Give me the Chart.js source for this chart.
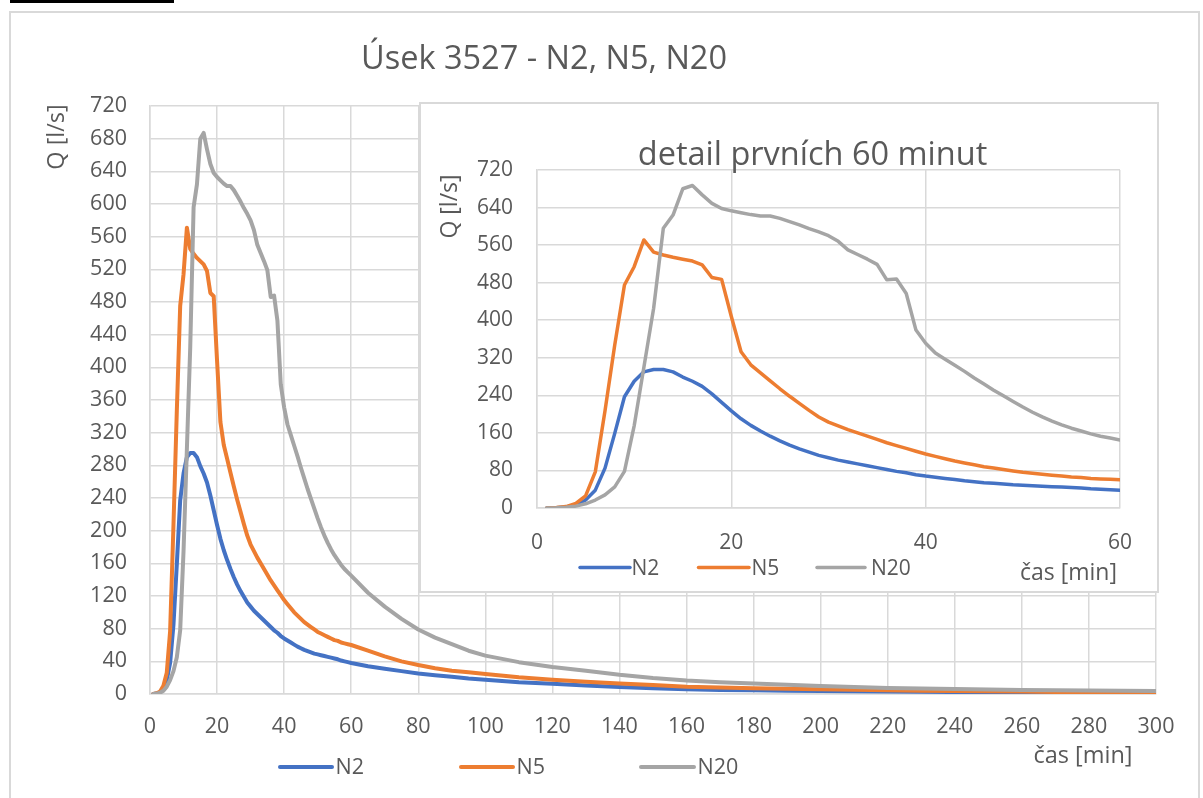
<!DOCTYPE html>
<html><head><meta charset="utf-8">
<script src="https://cdn.jsdelivr.net/npm/chart.js@4.4.0/dist/chart.umd.min.js"></script>
<style>
html,body{margin:0;padding:0;background:#fff;}
#wrap{position:relative;width:1203px;height:798px;overflow:hidden;background:#fff;}
#frame{position:absolute;left:9px;top:11px;width:1191px;height:800px;border:2px solid #d9d9d9;box-sizing:border-box;}
#topline{position:absolute;left:10px;top:0;width:164px;height:3px;background:#000;}
#main{position:absolute;left:0;top:0;}
#insetBox{position:absolute;left:419px;top:102px;width:740px;height:491px;background:#fff;border:2px solid #d9d9d9;box-sizing:border-box;}
#inset{position:absolute;left:419px;top:102px;}
</style></head>
<body>
<div id="wrap">
  <div id="topline"></div>
  <div id="frame"></div>
  <canvas id="main" width="1203" height="798"></canvas>
  <div id="insetBox"></div>
  <canvas id="inset" width="740" height="491"></canvas>
</div>
<script>
// ---- data (time in minutes, Q in l/s) ----
const times = [1,2,3,4,5,6,7,8,9,10,11,12,13,14,15,16,17,18,19,20,
  21,22,23,24,25,26,27,28,29,30,31,32,33,34,35,36,37,38,39,40,
  41,42,43,44,45,46,47,48,49,50,51,52,53,54,55,56,57,58,59,60,
  65,70,75,80,85,90,95,100,110,120,130,140,150,160,170,180,190,200,
  210,220,230,240,250,260,270,280,290,300];
const N2 = [0,0.5,2,6,17,38,85,159,237,270,290,295,295,290,279,270,259,243,225,207,
  190,176,164,153,143,134,126,119,112,107,102,98,94,90,86,82,78,75,71,68,
  65.5,63,60.5,58,56,54,52.5,51,49.5,48.5,47.5,46.5,45.5,44.5,43.5,42.5,41,40,39,38,
  34,31,28,25,23,21,19,17.5,14.5,12.5,10.5,8.5,7,5.8,5,4.5,4,3.6,
  3.3,3,2.7,2.4,2.2,2,1.8,1.6,1.4,1.2];
const N5 = [0,1,3,10,26,77,207,347,475,514,571,545,539,534,530,526,518,491,487,408,
  333,305,288,271,254,238,223,208,194,183,175,167,160,153,146,139,133,127,121,115,
  110,105,100,96,92,88,85,82,79,76,74,72,70,68,66,65,63,62,61,60,
  53,46,40,35.5,31.5,28.5,26.5,24.5,20.5,17.5,15,13,11,9,8,7,6.3,5.7,
  5.2,4.6,4.1,3.7,3.3,3,2.6,2.2,1.9,1.6];
const N20 = [0,0.5,1.5,4,9,17,28,45,78,175,300,425,596,624,680,687,667,649,638,633,
  629,625,622,622,617,610,603,595,588,580,568,550,540,530,519,486,488,457,379,351,
  330,317,304,291,277,264,251,239,227,215,204,194,185,177,170,164,158,153,149,145,
  124,107,92,79,69,61,53,47,39,33,28.5,23.5,19.5,16.5,14.5,13,11.3,9.8,
  8.5,7.4,6.6,6,5.5,5,4.6,4.3,4,3.7];
const seriesNames = ['N2','N5','N20'];
const seriesColors = ['#4472C4','#ED7D31','#A5A5A5'];
const mainTitle = 'Úsek 3527 - N2, N5, N20';
const insetTitle = 'detail prvních 60 minut';
const yTitle = 'Q [l/s]';
const xTitle = 'čas [min]';

const TXT = '#595959';
const FAM = "'Open Sans'";
const GRID = '#d9d9d9';

function toPts(vals, maxT){
  const out = [];
  for (let i=0;i<times.length;i++){ if (maxT===undefined || times[i] <= maxT) out.push({x:times[i], y:vals[i]}); }
  return out;
}
function makeDatasets(width, maxT){
  return [N2,N5,N20].map((v,i)=>({
    label: seriesNames[i], data: toPts(v,maxT), borderColor: seriesColors[i], backgroundColor: seriesColors[i],
    borderWidth: width, pointRadius: 0, tension: 0, fill:false, order: 3-i,
    borderJoinStyle:'round', borderCapStyle:'round'
  }));
}

const overlay = {
  id: 'overlay',
  afterDraw(chart, args, opts){
    const ctx = chart.ctx;
    ctx.save();
    (opts.legend||[]).forEach(it=>{
      const ds = chart.data.datasets[it.ds];
      ctx.strokeStyle = ds.borderColor; ctx.lineWidth = it.w; ctx.lineCap = 'round';
      ctx.beginPath(); ctx.moveTo(it.x1, it.y); ctx.lineTo(it.x2, it.y); ctx.stroke();
      ctx.fillStyle = TXT; ctx.font = opts.legendFont; ctx.textAlign='left'; ctx.textBaseline='alphabetic';
      ctx.fillText(ds.label, it.tx, it.ty);
    });
    (opts.texts||[]).forEach(t=>{
      ctx.save();
      ctx.fillStyle = TXT; ctx.font = t.font; ctx.textAlign = t.align||'center'; ctx.textBaseline = 'alphabetic';
      ctx.translate(t.x, t.y);
      if (t.rot) ctx.rotate(t.rot);
      ctx.fillText(t.text, 0, 0);
      ctx.restore();
    });
    ctx.restore();
  }
};

function axisCfg(min,max,step,pad,font,fitFn){
  return {
    type:'linear', min:min, max:max,
    ticks:{stepSize:step, padding:pad, color:TXT, font:{family:'Open Sans', size:font}, maxRotation:0, autoSkip:false},
    grid:{color:GRID, lineWidth:1.5, drawTicks:false},
    border:{color:GRID, width:1.5},
    title:{display:false},
    afterFit: fitFn
  };
}

new Chart(document.getElementById('main'), {
  type:'line',
  data:{datasets: makeDatasets(4)},
  plugins:[overlay],
  options:{
    responsive:false, animation:false, parsing:true,
    layout:{padding:{left:0, top:106, right:47, bottom:0}},
    plugins:{
      legend:{display:false}, tooltip:{enabled:false},
      overlay:{
        legendFont: "21.5px " + FAM,
        legend:[
          {ds:0, x1:280, x2:332, y:767, tx:335.5, ty:774, w:4},
          {ds:1, x1:461, x2:513, y:767, tx:516.5, ty:774, w:4},
          {ds:2, x1:641, x2:694, y:767, tx:697.5, ty:774, w:4}
        ],
        texts:[
          {text:mainTitle, x:544, y:69, font:"32.5px "+FAM},
          {text:xTitle, x:1083, y:763, font:"23.5px "+FAM},
          {text:yTitle, x:64, y:137, rot:-Math.PI/2, font:"23.5px "+FAM}
        ]
      }
    },
    scales:{
      x: axisCfg(0,300,20,20,21.5, s=>{s.height=104;}),
      y: axisCfg(0,720,40,23,21.5, s=>{s.width=150;})
    }
  }
});

new Chart(document.getElementById('inset'), {
  type:'line',
  data:{datasets: makeDatasets(3.5, 60)},
  plugins:[overlay],
  options:{
    responsive:false, animation:false,
    layout:{padding:{left:0, top:68, right:39, bottom:0}},
    plugins:{
      legend:{display:false}, tooltip:{enabled:false},
      overlay:{
        legendFont: "21px " + FAM,
        legend:[
          {ds:0, x1:161, x2:211, y:465.5, tx:212.5, ty:473, w:3.5},
          {ds:1, x1:279.5, x2:330, y:465.5, tx:332.5, ty:473, w:3.5},
          {ds:2, x1:398, x2:446, y:465.5, tx:452, ty:473, w:3.5}
        ],
        texts:[
          {text:insetTitle, x:393.5, y:63, font:"32.5px "+FAM},
          {text:xTitle, x:649.5, y:478, font:"23px "+FAM},
          {text:yTitle, x:38, y:104.5, rot:-Math.PI/2, font:"23px "+FAM}
        ]
      }
    },
    scales:{
      x: axisCfg(0,60,20,22,21, s=>{s.height=85;}),
      y: axisCfg(0,720,80,24,21, s=>{s.width=118;})
    }
  }
});
</script>
</body></html>
